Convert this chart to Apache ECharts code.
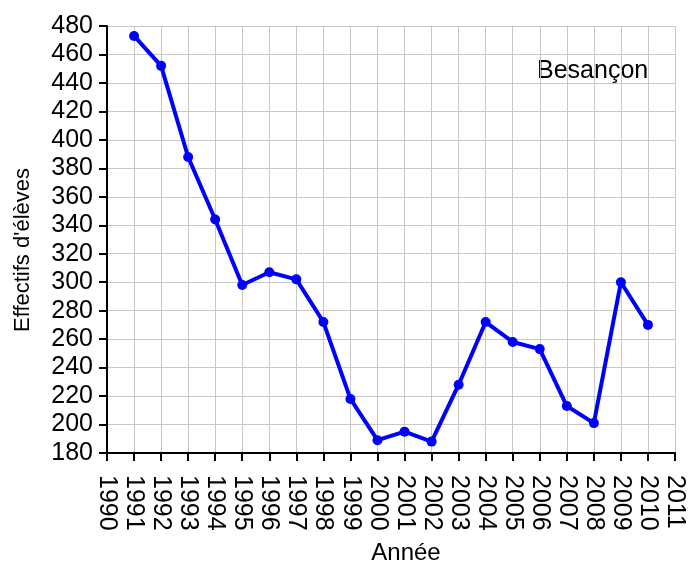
<!DOCTYPE html>
<html><head><meta charset="utf-8">
<script src="https://cdn.jsdelivr.net/npm/echarts@6/dist/echarts.min.js"></script>
<style>html,body{margin:0;padding:0;background:#fff}#c{width:688px;height:565px}</style>
</head><body><div id="c"></div>
<script>
const years = [1991,1992,1993,1994,1995,1996,1997,1998,1999,2000,2001,2002,2003,2004,2005,2006,2007,2008,2009,2010];
const effectifs = [473,452,388,344,298,307,302,272,218,189,195,188,228,272,258,253,213,201,300,270];
const xLabel = 'Année';
const yLabel = "Effectifs d'élèves";
const legendText = 'Besançon';

const chart = echarts.init(document.getElementById('c'), null, {renderer:'canvas'});
const font = 'Liberation Sans, Arial, sans-serif';
chart.setOption({
  animation:false,
  backgroundColor:'#fff',
  grid:{left:107, right:13, top:26, bottom:112},
  xAxis:{
    type:'value', min:1990, max:2011, interval:1,
    axisLine:{onZero:false, lineStyle:{color:'#000', width:2}},
    axisTick:{show:true, length:8, lineStyle:{color:'#000', width:2}},
    axisLabel:{rotate:-90, margin:22, fontFamily:font, fontSize:25, color:'#000', formatter:v=>String(v)},
    splitLine:{show:true, lineStyle:{color:'#c8c8c8', width:1}}
  },
  yAxis:{
    type:'value', min:180, max:480, interval:20,
    axisLine:{show:true, onZero:false, lineStyle:{color:'#000', width:2}},
    axisTick:{show:true, length:8, lineStyle:{color:'#000', width:2}},
    axisLabel:{margin:14, fontFamily:font, fontSize:25, color:'#000'},
    splitLine:{show:true, lineStyle:{color:'#c8c8c8', width:1}}
  },
  graphic:[
    {type:'text', x:537, y:71, style:{text:legendText, font:'25px '+font, fill:'#000', verticalAlign:'middle'}},
    {type:'text', x:406, y:553, style:{text:xLabel, font:'24px '+font, fill:'#000', align:'center', verticalAlign:'middle'}},
    {type:'text', x:23, y:250, rotation:Math.PI/2, style:{text:yLabel, font:'22px '+font, fill:'#000', align:'center', verticalAlign:'middle'}}
  ],
  series:[{
    type:'line', data:years.map((y,i)=>[y,effectifs[i]]),
    lineStyle:{color:'#0000ff', width:4},
    itemStyle:{color:'#0000ff'},
    symbol:'circle', symbolSize:10, showSymbol:true
  }]
});
</script></body></html>
